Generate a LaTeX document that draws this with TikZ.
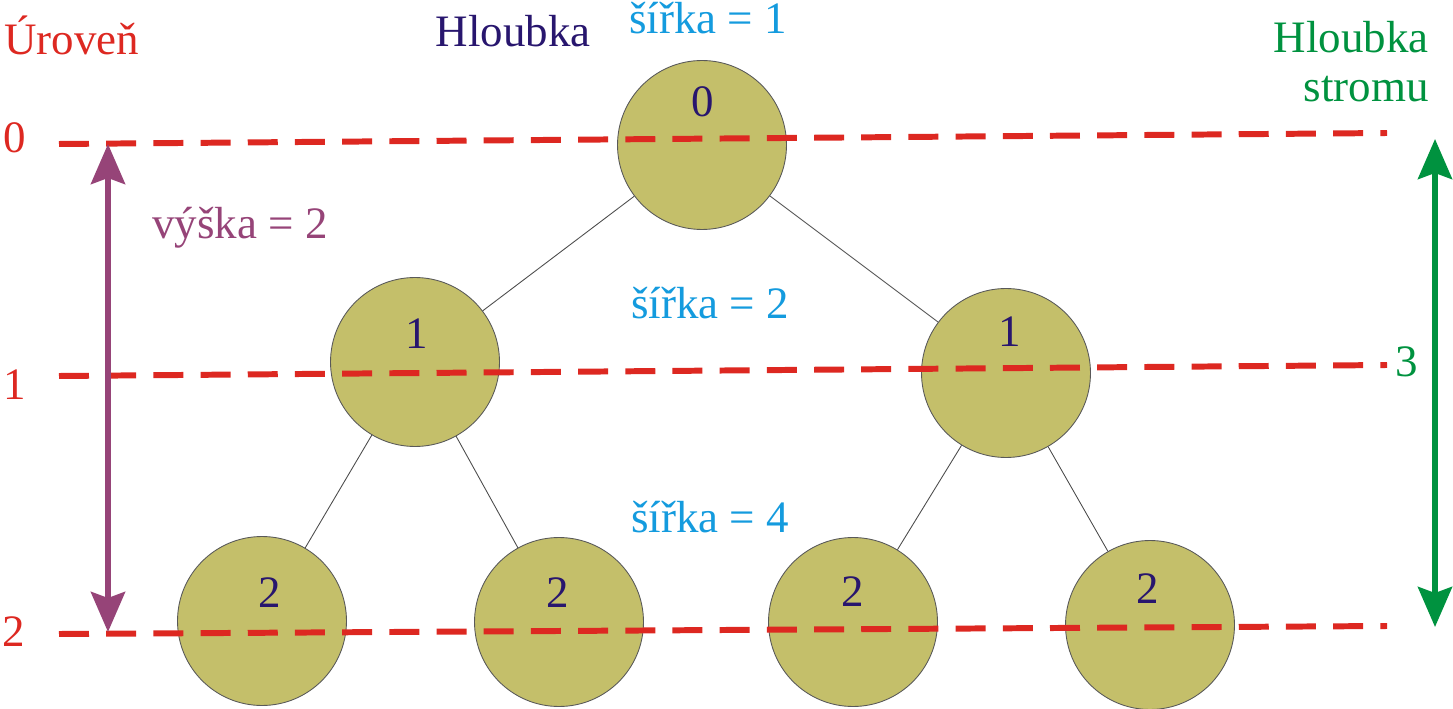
\documentclass[tikz,border=0pt]{standalone}
\usepackage{fontspec}
\setmainfont{Liberation Serif}
\usetikzlibrary{arrows.meta}
\definecolor{cervena}{RGB}{221,40,33}
\definecolor{olivova}{RGB}{196,191,106}
\definecolor{tmodra}{RGB}{40,22,110}
\definecolor{svmodra}{RGB}{20,155,222}
\definecolor{zelena}{RGB}{0,146,63}
\definecolor{fialova}{RGB}{150,68,120}

\begin{document}
\begin{tikzpicture}
[x=0.02cm,y=-0.02cm]
\tikzset{uzel/.style={circle,draw=black!65,fill=olivova,line width=.5pt,minimum size=3.38cm,inner sep=0pt}}
\tikzset{cislo/.style={text=tmodra,font=\fontsize{25.6}{28}\selectfont,inner sep=0pt}}
\tikzset{popis/.style={font=\fontsize{25.6}{28}\selectfont,inner sep=0pt,anchor=base}}
\tikzset{hrana/.style={black!70,line width=.5pt}}
\tikzset{uroven/.style={cervena,line width=3.4pt,dash pattern=on 0.6cm off 0.344cm}}
\tikzset{sipka/.style={line width=3.4pt,>={Stealth[length=0.8cm,width=0.68cm,inset=0.12cm]},<->}}
\useasboundingbox (0,0) rectangle (1453,709);

% uzly stromu
\node [uzel] (r) at (702,145) {};
\node [uzel] (a) at (415,362) {};
\node [uzel] (b) at (1006,373) {};
\node [uzel] (c1) at (262,621) {};
\node [uzel] (c2) at (559,622) {};
\node [uzel] (c3) at (853,622) {};
\node [uzel] (c4) at (1150,625) {};

\foreach \from/\to in {r/a,r/b,a/c1,a/c2,b/c3,b/c4}
	\draw [hrana] (\from) -- (\to);

% urovne
\coordinate (u0a) at (59,144);
\coordinate (u0b) at (1387,133);
\coordinate (u1a) at (59,376);
\coordinate (u1b) at (1387,365);
\coordinate (u2a) at (59,634);
\coordinate (u2b) at (1387,626);
\foreach \i in {0,1,2}
	\draw [uroven] (u\i a) -- (u\i b);

% sipky
\coordinate (v0) at (108,144);
\coordinate (v2) at (108,632);
\coordinate (h0) at (1435,139);
\coordinate (h2) at (1435,627);
\draw [sipka,fialova] (v0) -- (v2);
\draw [sipka,zelena] (h0) -- (h2);

% cisla v uzlech
\node [cislo] (tr) at (703,102) {0};
\node [cislo] (ta) at (417,334) {1};
\node [cislo] (tb) at (1010,332) {1};
\node [cislo] (tc1) at (270,593) {2};
\node [cislo] (tc2) at (558,593) {2};
\node [cislo] (tc3) at (853,592) {2};
\node [cislo] (tc4) at (1148,589) {2};

% popisky
\node [popis,anchor=base west,text=cervena] (uroven) at (4,55) {Úroveň};
\node [popis,anchor=base west,text=cervena] (u0) at (3,153) {0};
\node [popis,anchor=base west,text=cervena] (u1) at (3,399) {1};
\node [popis,anchor=base west,text=cervena] (u2) at (2,646) {2};
\node [popis,text=tmodra] (hloubka) at (513,47) {Hloubka};
\node [popis,text=svmodra] (s1) at (708,34) {šířka = 1};
\node [popis,text=svmodra] (s2) at (710,318) {šířka = 2};
\node [popis,text=svmodra] (s4) at (710,532) {šířka = 4};
\node [popis,text=fialova] (vyska) at (240,239) {výška = 2};
\node [popis,anchor=north east,align=right,text=zelena,font=\fontsize{25.6}{27.9}\selectfont] (hs) at (1429,21) {Hloubka\\stromu};
\node [popis,text=zelena] (tri) at (1407,377) {3};

\end{tikzpicture}
\end{document}
